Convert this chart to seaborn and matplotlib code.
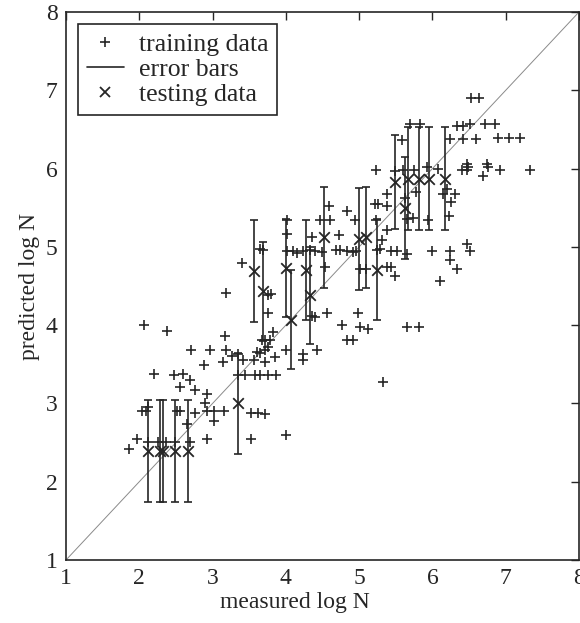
import matplotlib
matplotlib.use("Agg")
import matplotlib.pyplot as plt
import seaborn as sns
import pandas as pd
from matplotlib.lines import Line2D

# ---- data -------------------------------------------------------------
train_x = [1.86, 1.97, 2.04, 2.09, 2.12, 2.12, 2.26, 2.37, 2.49, 2.69,
           2.51, 2.56, 2.76, 2.92, 3.02, 3.15, 3.02, 2.90, 2.93, 2.76,
           2.56, 2.65, 3.53, 3.62, 3.72, 3.53, 2.93, 4.00, 2.20, 2.48,
           2.59, 2.69, 2.88, 2.71, 2.96, 3.19, 3.35, 3.44, 3.58, 3.65,
           3.76, 3.87, 3.56, 3.71, 3.85, 3.60, 3.65, 3.71, 3.76, 4.00,
           4.24, 4.24, 4.42, 3.67, 3.71, 3.78, 3.83, 3.76, 3.76, 3.80,
           3.69, 3.65, 3.14, 3.27, 3.35, 3.42, 2.06, 2.38, 3.17, 3.18,
           3.40,
           4.01, 4.01, 4.01, 4.10, 4.15, 4.24, 4.33, 4.40, 4.49, 4.35,
           4.47, 4.60, 4.59, 4.83, 4.72, 4.69, 4.74, 4.84, 4.91, 4.96,
           4.94, 5.21, 5.26, 5.38, 5.23, 5.38, 5.31, 5.24, 5.29, 5.44,
           5.51, 4.53, 5.01, 5.10, 5.38, 5.43, 5.49, 4.35, 4.40, 4.56,
           4.99, 4.76, 5.01, 5.12, 4.83, 4.91, 5.33, 5.23, 5.49, 5.38,
           5.75, 5.92, 6.08, 5.62, 5.77, 6.14, 6.20, 6.31, 6.26, 6.23,
           5.74, 5.65, 5.94, 5.65, 5.99, 6.24, 6.47, 6.51, 6.24, 6.34,
           6.11, 5.65, 5.81,
           6.53, 6.64, 5.69, 5.83, 6.33, 6.42, 6.51, 6.72, 6.85, 5.59,
           6.24, 6.42, 6.59, 6.90, 7.04, 7.19, 6.47, 6.49, 6.40, 6.47,
           6.74, 6.76, 6.69, 6.92, 7.33, 5.60]
train_y = [2.42, 2.54, 2.90, 2.90, 2.96, 2.51, 2.51, 2.51, 2.51, 2.51,
           2.90, 2.90, 2.88, 2.90, 2.90, 2.90, 2.77, 3.00, 3.12, 3.17,
           3.21, 2.74, 2.88, 2.88, 2.86, 2.54, 2.54, 2.60, 3.37, 3.36,
           3.38, 3.30, 3.49, 3.68, 3.68, 3.68, 3.36, 3.36, 3.36, 3.36,
           3.36, 3.36, 3.55, 3.53, 3.59, 3.66, 3.64, 3.68, 3.72, 3.68,
           3.63, 3.55, 3.68, 3.81, 3.81, 3.81, 3.91, 4.15, 4.38, 4.40,
           4.96, 4.97, 3.53, 3.60, 3.63, 3.55, 4.00, 3.92, 3.86, 4.41,
           4.80,
           5.34, 5.17, 4.95, 4.95, 4.92, 4.95, 4.96, 4.95, 4.93, 5.12,
           5.34, 5.34, 5.52, 5.46, 5.15, 4.96, 4.96, 4.95, 4.93, 4.95,
           5.34, 5.55, 5.55, 5.52, 5.34, 5.21, 5.09, 4.96, 4.97, 4.95,
           4.95, 4.74, 4.72, 4.72, 4.74, 4.74, 4.63, 4.12, 4.10, 4.15,
           4.15, 4.00, 3.98, 3.95, 3.81, 3.81, 3.28, 5.98, 5.97, 5.68,
           5.98, 6.02, 6.00, 5.63, 5.70, 5.68, 5.74, 5.68, 5.57, 5.40,
           5.37, 5.36, 5.34, 4.91, 4.95, 4.95, 5.04, 4.95, 4.83, 4.72,
           4.56, 3.97, 3.97,
           6.90, 6.90, 6.57, 6.57, 6.55, 6.55, 6.57, 6.57, 6.57, 6.37,
           6.38, 6.38, 6.38, 6.39, 6.39, 6.39, 6.06, 6.02, 5.98, 5.98,
           6.06, 6.02, 5.91, 5.98, 5.98, 5.98]

test_x = [2.12, 2.28, 2.32, 2.49, 2.67, 3.35, 3.56, 3.69, 4.00, 4.07, 4.28,
          4.33, 4.52, 5.00, 5.10, 5.24, 5.49, 5.62, 5.67, 5.81, 5.95, 6.17]
test_y = [2.39, 2.39, 2.39, 2.39, 2.39, 3.00, 4.69, 4.43, 4.73, 4.07, 4.70,
          4.38, 5.12, 5.10, 5.12, 4.71, 5.83, 5.50, 5.87, 5.87, 5.87, 5.87]
test_err = [0.65, 0.65, 0.65, 0.65, 0.65, 0.64, 0.65, 0.63, 0.63, 0.63, 0.64,
            0.62, 0.65, 0.65, 0.65, 0.65, 0.60, 0.65, 0.66, 0.66, 0.66, 0.66]

tick_vals = [1, 2, 3, 4, 5, 6, 7, 8]
x_label = "measured log N"
y_label = "predicted log N"
legend_labels = ["training data", "error bars", "testing data"]

# ---- plot -------------------------------------------------------------
sns.set_theme(style="white")
plt.rcParams["font.family"] = ["Liberation Serif", "DejaVu Serif"]

ink = "#262626"
fig = plt.figure(figsize=(5.8, 6.23), dpi=100)
ax = fig.add_axes([66 / 580, 63 / 623, (579 - 66) / 580, (560 - 12) / 623])

ax.plot([1, 8], [1, 8], color="#8a8a8a", lw=0.7, zorder=1)

train_df = pd.DataFrame({"x": train_x, "y": train_y})
test_df = pd.DataFrame({"x": test_x, "y": test_y, "err": test_err})

ax.errorbar(test_df["x"], test_df["y"], yerr=test_df["err"], fmt="none",
            ecolor=ink, elinewidth=1.2, capsize=3.2, capthick=1.2, zorder=2)
sns.scatterplot(data=train_df, x="x", y="y", marker="+", s=44, color=ink,
                linewidth=1.2, ax=ax, zorder=3, legend=False)
sns.scatterplot(data=test_df, x="x", y="y", marker="x", s=58, color=ink,
                linewidth=1.3, ax=ax, zorder=4, legend=False)

ax.set_xlim(1, 8)
ax.set_ylim(1, 8)
ax.set_xticks(tick_vals)
ax.set_yticks(tick_vals)
ax.tick_params(direction="in", length=6, width=1, top=True, right=True,
               labelsize=17, colors=ink, pad=6)
ax.set_xlabel(x_label, fontsize=17, color=ink, labelpad=6)
ax.set_ylabel(y_label, fontsize=17, color=ink, labelpad=4)
ax.xaxis.set_label_coords(0.446, -0.058)
for sp in ax.spines.values():
    sp.set_color(ink)
    sp.set_linewidth(1.2)

handles = [
    Line2D([], [], ls="none", marker="+", ms=7, mew=1.2, color=ink),
    Line2D([], [], color=ink, lw=1.2),
    Line2D([], [], ls="none", marker="x", ms=7.5, mew=1.3, color=ink),
]
leg = ax.legend(handles, legend_labels, loc="upper left", fontsize=18.5,
                frameon=True, fancybox=False, edgecolor=ink, framealpha=1,
                labelspacing=0.08, handlelength=1.45, handletextpad=0.58,
                borderpad=0.35, borderaxespad=0.45)
leg.get_frame().set_linewidth(1.2)
for t in leg.get_texts():
    t.set_color(ink)

fig.savefig("out.png", dpi=100)
